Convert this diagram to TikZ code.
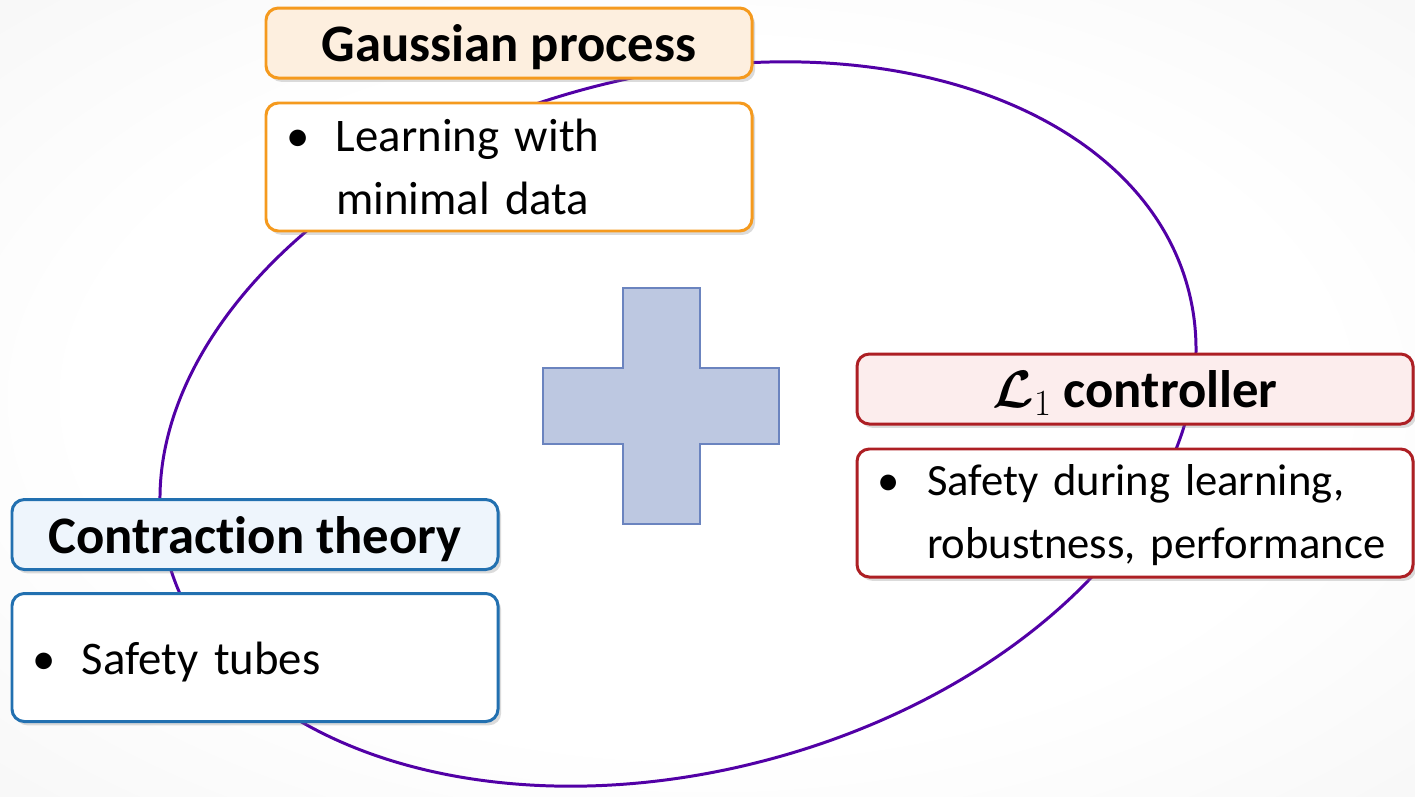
\RequirePackage{fix-cm}
\documentclass[tikz,border=0pt]{standalone}
\usepackage{amsmath,bm}
\usepackage{fontspec}
\setmainfont{Carlito}[Ligatures=NoCommon]
\usepackage{tikz}
\usetikzlibrary{positioning,shadows}
\definecolor{gpedge}{HTML}{F59A1E}
\definecolor{gpfill}{HTML}{FDEFDF}
\definecolor{loneedge}{HTML}{AD1F24}
\definecolor{lonefill}{HTML}{FCEDED}
\definecolor{ctedge}{HTML}{2270B0}
\definecolor{ctfill}{HTML}{EEF5FC}
\definecolor{plusfill}{HTML}{BDC8E1}
\definecolor{plusedge}{HTML}{6B84BF}
\definecolor{loopline}{HTML}{5200A6}
\pgfdeclareradialshading{slidebg}{\pgfpoint{0bp}{0bp}}{color(0bp)=(white); color(22bp)=(white); color(50bp)=(black!6)}
\tikzset{
  % heading box, #1 is gp, lone or ct
  headbox/.style={draw=#1edge, fill=#1fill, line width=1.7pt, rounded corners=7pt,
    minimum width=9.72cm, minimum height=1.4cm, inner ysep=0pt,
    text height=27.6pt, text depth=6pt,
    font=\fontsize{30}{36}\selectfont\bfseries,
    drop shadow={opacity=0.28, shadow xshift=1.8pt, shadow yshift=-2.2pt}},
  % white box with the bullet text under a heading
  itembox/.style={draw=#1edge, fill=white, line width=1.7pt, rounded corners=7pt,
    minimum width=9.72cm, minimum height=2.56cm, inner xsep=0.4cm, inner ysep=0pt,
    text width=8.92cm, align=left,
    font=\fontsize{26.6}{36}\selectfont,
    drop shadow={opacity=0.28, shadow xshift=1.8pt, shadow yshift=-2.2pt}},
  % the big plus sign
  plus/.style={fill=plusfill, draw=plusedge, line width=1.2pt},
}
% #1 space above the first line, #2 the lines
\newcommand{\bulletitem}[2]{\parbox[c][2.56cm][t]{\linewidth}{\vspace*{#1}%
  \begin{tabular}[t]{@{}p{1.0cm}@{}l@{}}\textbullet & #2\end{tabular}}}

\begin{document}
\begin{tikzpicture}
    \useasboundingbox (0,0) rectangle (28.3,-15.92);
    \shade[shading=slidebg] (0,0) rectangle (28.3,-15.92);

    % loop behind the boxes
    \coordinate (loopc) at (13.56,-8.48);
    \draw[loopline, line width=1.7pt, rotate around={14.8:(loopc)}] (loopc) ellipse (10.556 and 6.952);

    % plus in the middle
    \filldraw[plus] (10.86,-7.36) -- (12.46,-7.36) -- (12.46,-5.76) -- (14.0,-5.76)
      -- (14.0,-7.36) -- (15.58,-7.36) -- (15.58,-8.88) -- (14.0,-8.88)
      -- (14.0,-10.48) -- (12.46,-10.48) -- (12.46,-8.88) -- (10.86,-8.88) -- cycle;

    \node[headbox=gp] (gp) at (10.18,-0.86) {Gaussian process};
    \node[itembox=gp, below=0.44cm of gp] (gpitem) {\bulletitem{2.3pt}{Learning with\\ & minimal data}};

    \node[headbox=lone, minimum width=11.12cm] (lone) at (22.7,-7.78) {$\bm{\mathcal{L}}_1$ controller};
    \node[itembox=lone, minimum width=11.12cm, text width=10.32cm, font=\fontsize{25.4}{36}\selectfont,
      below=0.44cm of lone] (loneitem)
      {\bulletitem{1.2pt}{Safety during learning,\\ & robustness, performance}};

    \node[headbox=ct] (ct) at (5.1,-10.69) {Contrac\kern0pt tion theory};
    \node[itembox=ct, below=0.42cm of ct] (ctitem) {\bulletitem{21pt}{Safety tubes}};
\end{tikzpicture}
\end{document}
